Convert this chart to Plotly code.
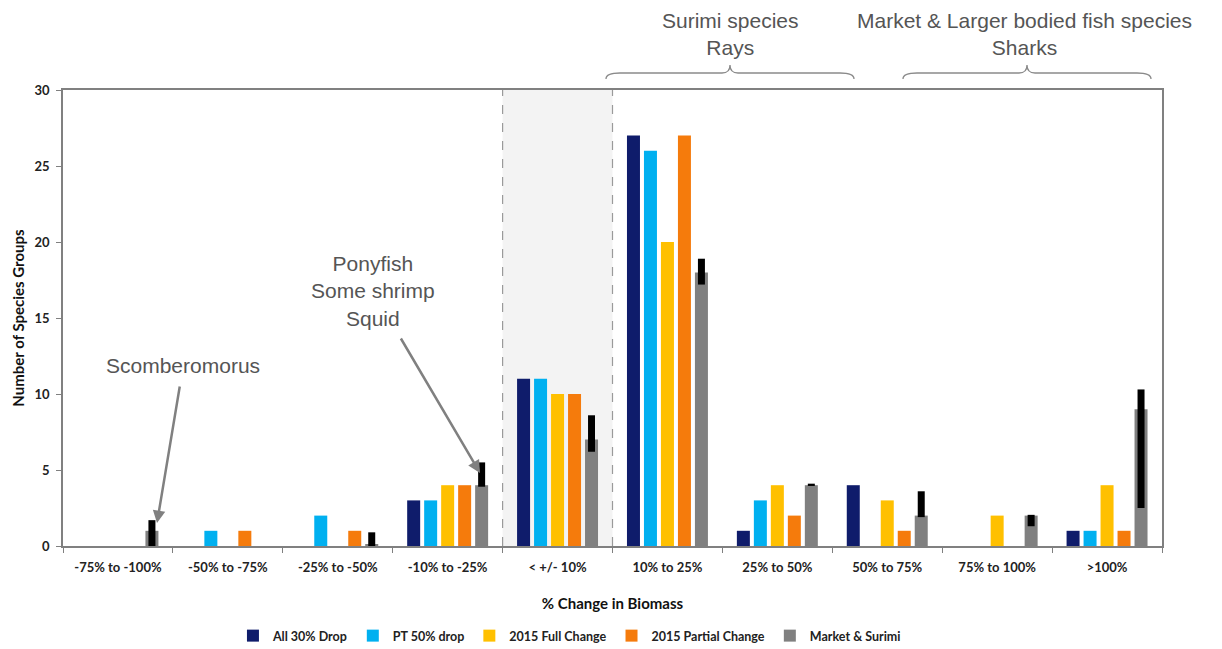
import plotly.graph_objects as go

categories = ["-75% to -100%", "-50% to -75%", "-25% to -50%", "-10% to -25%", "< +/- 10%",
              "10% to 25%", "25% to 50%", "50% to 75%", "75% to 100%", ">100%"]
all30 = [0, 0, 0, 3, 11, 27, 1, 4, 0, 1]
pt50 = [0, 1, 2, 3, 11, 26, 3, 0, 0, 1]
full2015 = [0, 0, 0, 4, 10, 20, 4, 3, 2, 4]
partial2015 = [0, 1, 1, 4, 10, 27, 2, 1, 0, 1]
market_surimi = [1, 0, 0.1, 4, 7, 18, 4, 2, 2, 9]
ms_err_plus = [0.7, 0, 0.8, 1.5, 1.6, 0.9, 0.1, 1.6, 0.05, 1.3]
ms_err_minus = [1.0, 0, 0.1, 0.1, 0.8, 0.8, 0.05, 0.1, 0.7, 6.5]

series = [
    ("All 30% Drop", all30, "#0f1c6b"),
    ("PT 50% drop", pt50, "#00b0f0"),
    ("2015 Full Change", full2015, "#ffc000"),
    ("2015 Partial Change", partial2015, "#f57b0c"),
]

W, H = 1222, 649
L, R, T, B = 63, 1162, 90, 546

def px(x):
    return (x - L) / (R - L)

def py(y):
    return (B - y) / (B - T)

fig = go.Figure()
for name, vals, col in series:
    fig.add_trace(go.Bar(name=f"<b>{name}</b>", x=categories, y=vals,
                         marker=dict(color=col, line_width=0)))
fig.add_trace(go.Bar(
    name="<b>Market & Surimi</b>", x=categories, y=market_surimi,
    marker=dict(color="#808080", line_width=0),
    error_y=dict(type="data", symmetric=False, array=ms_err_plus, arrayminus=ms_err_minus,
                 color="black", thickness=7, width=0),
))

shapes = [
    dict(type="rect", xref="x", yref="y", x0=3.5, x1=4.5, y0=0, y1=30,
         fillcolor="#f3f3f3", line_width=0, layer="below"),
    dict(type="line", xref="x", yref="y", x0=3.5, x1=3.5, y0=0, y1=30,
         line=dict(color="#9a9a9a", width=1.2, dash="dash"), layer="below"),
    dict(type="line", xref="x", yref="y", x0=4.5, x1=4.5, y0=0, y1=30,
         line=dict(color="#9a9a9a", width=1.2, dash="dash"), layer="below"),
]

def brace(x0, x1, ytip=65, yflat=73, yend=79):
    xm = (x0 + x1) / 2
    p = (f"M {px(x0)},{py(yend)} Q {px(x0)},{py(yflat)} {px(x0+14)},{py(yflat)} "
         f"L {px(xm-8)},{py(yflat)} Q {px(xm)},{py(yflat)} {px(xm)},{py(ytip)} "
         f"Q {px(xm)},{py(yflat)} {px(xm+8)},{py(yflat)} "
         f"L {px(x1-14)},{py(yflat)} Q {px(x1)},{py(yflat)} {px(x1)},{py(yend)}")
    return dict(type="path", xref="paper", yref="paper", path=p,
                line=dict(color="#8a8a8a", width=1.3))

shapes.append(brace(606, 854))
shapes.append(brace(903, 1151))

txtfont = dict(family="Liberation Sans, Arial, sans-serif", size=21, color="#555555")

def label(x, y, text):
    return dict(xref="paper", yref="paper", x=px(x), y=py(y), text=text, showarrow=False,
                font=txtfont, align="center", xanchor="center", yanchor="middle")

annotations = [
    label(730, 34, "Surimi species<br>Rays"),
    label(1024, 34, "Market & Larger bodied fish species<br>Sharks"),
    label(183, 365, "Scomberomorus"),
    label(373, 291, "Ponyfish<br>Some shrimp<br>Squid"),
    dict(xref="paper", yref="paper", x=px(157), y=py(523), ax=23, ay=-138, text="",
         showarrow=True, arrowhead=2, arrowsize=1, arrowwidth=2.5, arrowcolor="#808080"),
    dict(xref="paper", yref="paper", x=px(480), y=py(473), ax=-80, ay=-136, text="",
         showarrow=True, arrowhead=2, arrowsize=1, arrowwidth=2.5, arrowcolor="#808080"),
]

tickfont = dict(family="Lato, sans-serif", size=13, color="#222222")
fig.update_layout(
    width=W, height=H,
    margin=dict(l=L, r=W - R, t=T, b=H - B),
    paper_bgcolor="white", plot_bgcolor="white",
    barmode="group", bargap=0.227, bargroupgap=0.235,
    shapes=shapes, annotations=annotations,
    legend=dict(orientation="h", xref="container", yref="container",
                x=0.466, xanchor="center", y=(H - 636) / H, yanchor="middle",
                font=dict(family="Lato, sans-serif", size=12.5, color="#222222"),
                itemwidth=30, traceorder="normal", tracegroupgap=0),
    xaxis=dict(type="category", tickson="boundaries", ticks="outside", ticklen=5,
               tickcolor="#808080", showline=True, linecolor="#808080", linewidth=1.5,
               mirror=True, showgrid=False, tickfont=tickfont, ticklabelstandoff=9,
               title=dict(text="<b>% Change in Biomass</b>",
                          font=dict(family="Lato, sans-serif", size=15, color="#111111"), standoff=24)),
    yaxis=dict(range=[0, 30], dtick=5, ticks="outside", ticklen=5, tickcolor="#808080",
               showline=True, linecolor="#808080", linewidth=1.5, mirror=True,
               showgrid=False, zeroline=False, tickfont=tickfont, ticklabelstandoff=4,
               title=dict(text="<b>Number of Species Groups</b>",
                          font=dict(family="Lato, sans-serif", size=15, color="#111111"), standoff=6)),
)
fig.update_xaxes(tickprefix="<b>", ticksuffix="</b>")
fig.update_yaxes(tickprefix="<b>", ticksuffix="</b>")

fig.write_html("out.html")
